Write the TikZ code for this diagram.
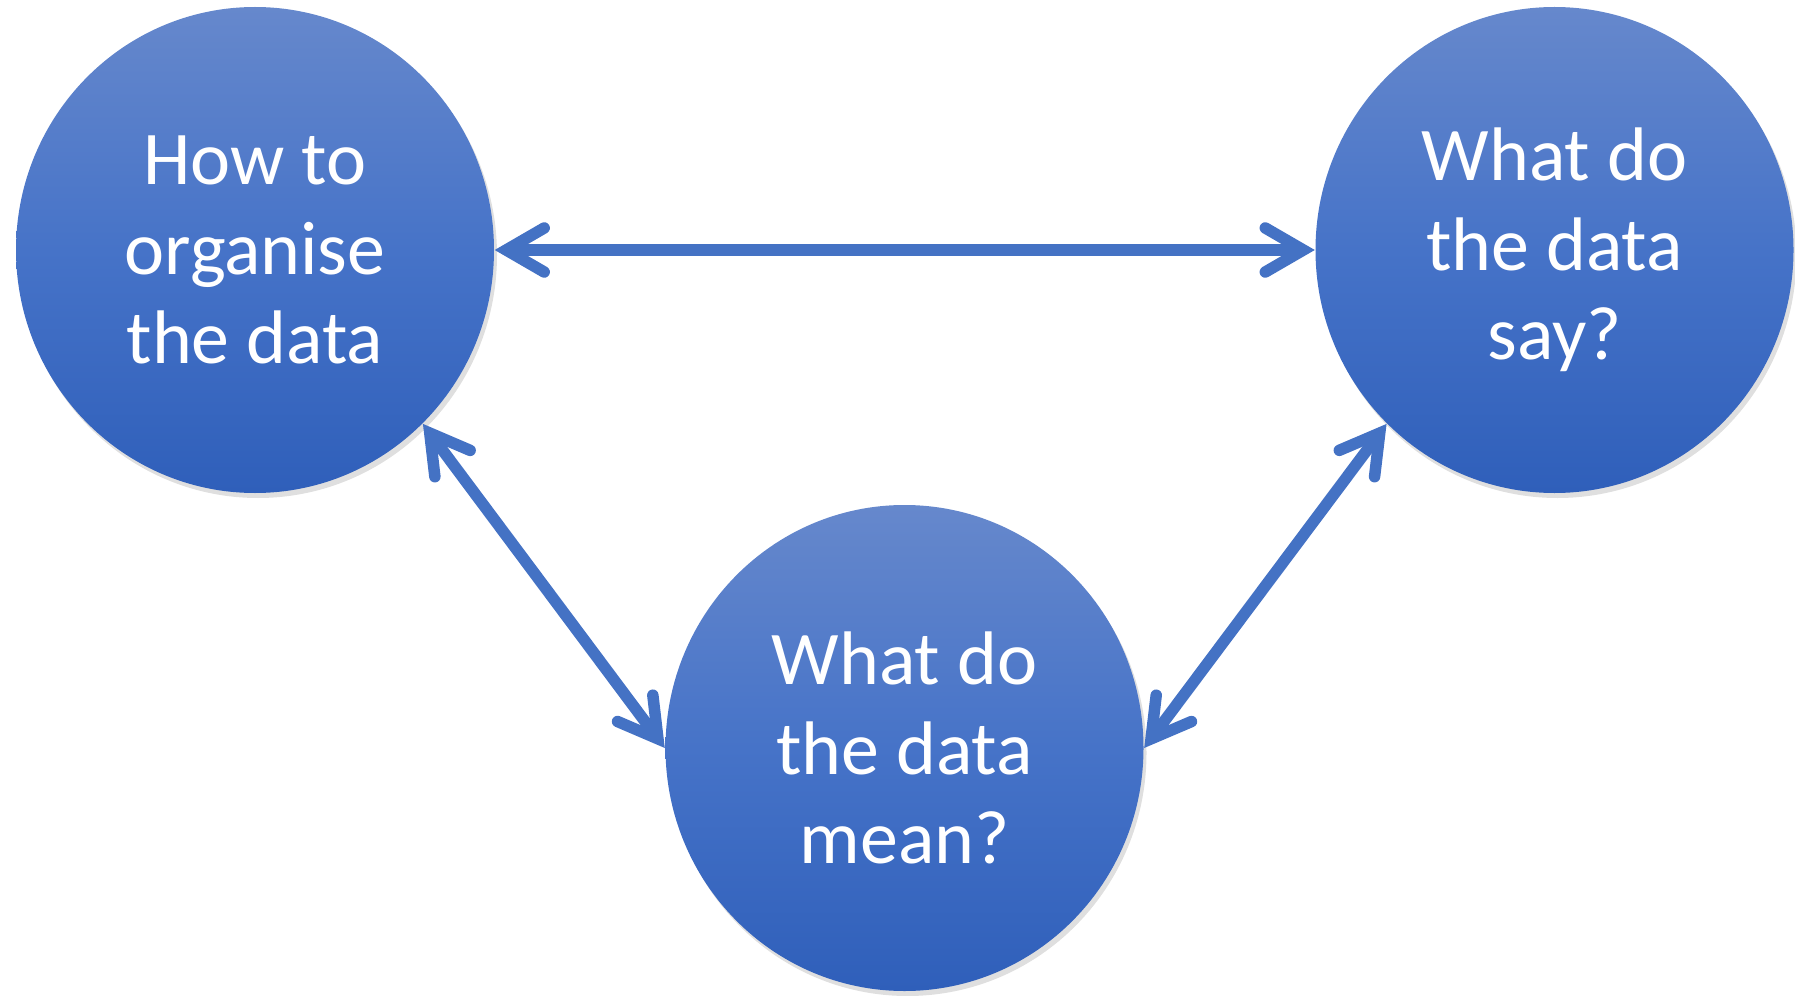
\documentclass[tikz,border=0pt]{standalone}
\usepackage{fontspec}
\setmainfont{Carlito}
\usepackage{tikz}
\usetikzlibrary{shapes.geometric,arrows.meta}
\usetikzlibrary{positioning,shadows}
\definecolor{blob_top}{HTML}{6688CC}
\definecolor{blob_mid}{HTML}{4673C8}
\definecolor{blob_low}{HTML}{2F5FBA}
\definecolor{link_blue}{HTML}{4472C4}

\begin{document}
\begin{tikzpicture}[topic_node/.style={ellipse,minimum width=4.78cm,minimum height=4.86cm,inner sep=0pt,
		top color=blob_top,bottom color=blob_low,middle color=blob_mid,
		drop shadow={opacity=0.25,shadow xshift=0.3mm,shadow yshift=-0.5mm},
		text=white,align=center,font=\fontsize{21.6}{25.5}\selectfont},
		link_arrow/.style={draw=link_blue,line width=0.115cm,line cap=round,
		{Straight Barb[length=3.8mm,width=4.4mm,line cap=round]}-{Straight Barb[length=3.8mm,width=4.4mm,line cap=round]}}]
				\useasboundingbox (0,0) rectangle (17.95,9.95);
				\node[topic_node] (org) at (2.55, 7.45) {How to\\organise\\the data};
				\node[topic_node] (say) at (15.545, 7.45) {What do\\the data\\say?};
				\node[topic_node] (mean) at (9.045, 2.47) {What do\\the data\\mean?};
				
				\draw[link_arrow] (org.east) -- (say.west);
				\draw[link_arrow] (org.-46) -- (mean.west);
				\draw[link_arrow] (mean.east) -- (say.226);
			\end{tikzpicture}
\end{document}
